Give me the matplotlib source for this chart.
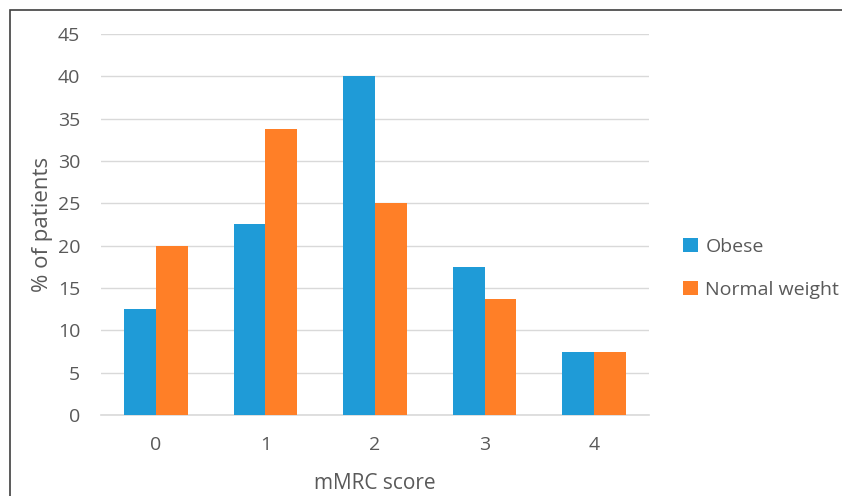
import matplotlib.pyplot as plt
import numpy as np
from matplotlib.patches import Rectangle

categories = ["0", "1", "2", "3", "4"]
obese = [12.5, 22.5, 40, 17.5, 7.5]
normal = [20, 33.75, 25, 13.75, 7.5]
series_names = ["Obese", "Normal weight"]

plt.rcParams['font.family'] = ['Open Sans', 'DejaVu Sans']
grey = "#595959"

fig = plt.figure(figsize=(8.42, 4.96), dpi=100)
ax = fig.add_axes([101 / 842, 1 - 415 / 496, 548 / 842, 381 / 496])

x = np.arange(len(categories))
w = 0.29
ax.bar(x - w / 2, obese, w, color="#1f9bd7", label=series_names[0], zorder=3)
ax.bar(x + w / 2, normal, w, color="#ff7f27", label=series_names[1], zorder=3)

ax.set_xlim(-0.5, 4.5)
ax.set_ylim(0, 45)
ax.set_yticks(range(0, 46, 5))
ax.set_xticks(x)
ax.set_xticklabels(categories)
ax.grid(axis="y", color="#d9d9d9", linewidth=1, zorder=0)
for s in ["top", "right", "left"]:
    ax.spines[s].set_visible(False)
ax.spines["bottom"].set_color("#d9d9d9")
ax.spines["bottom"].set_linewidth(1.2)
ax.tick_params(length=0, labelsize=14, colors=grey)
ax.tick_params(axis="y", pad=15)
ax.tick_params(axis="x", pad=15)

ax.set_xlabel("mMRC score", fontsize=15, color=grey, labelpad=14)
ax.set_ylabel("% of patients", fontsize=16, color=grey, labelpad=3)

ax.legend(loc="center left", bbox_to_anchor=(1.03, 0.385), frameon=False,
          fontsize=14, labelcolor=grey, handlelength=0.75, handleheight=0.75,
          handletextpad=0.4, labelspacing=1.3)

fig.patches.append(Rectangle((9.5 / 842, -0.1), 1.2, 1 - 10 / 496 + 0.1,
                             transform=fig.transFigure, fill=False,
                             edgecolor="#404040", linewidth=1.2))

fig.savefig("out.png", dpi=100)
